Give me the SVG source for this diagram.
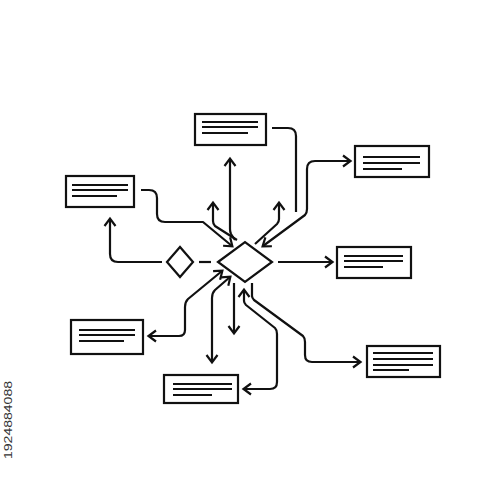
<svg xmlns="http://www.w3.org/2000/svg" width="500" height="500" viewBox="0 0 500 500">
<style>
.box{fill:#fff;stroke:#111;stroke-width:2.2}
.ln{stroke:#111;stroke-width:2;fill:none}
.c{stroke:#111;stroke-width:2.2;fill:none;stroke-linejoin:round}
.a{marker-end:url(#ah)}
.b{marker-start:url(#ah);marker-end:url(#ah)}
.dm{fill:#fff;stroke:#111;stroke-width:2.2;stroke-linejoin:miter}
</style>
<defs>
<marker id="ah" markerUnits="userSpaceOnUse" markerWidth="12" markerHeight="14" refX="8" refY="6" orient="auto-start-reverse" viewBox="0 0 12 12">
<path d="M1,0.5 L8.5,6 L1,11.5" fill="none" stroke="#111" stroke-width="2.2"/>
</marker>
</defs>
<rect width="500" height="500" fill="#fff"/>
<g id="connectors">
<path class="c a" d="M162 262 H118 Q110 262 110 254 V219"/>
<path class="c" d="M199 262 H211"/>
<path class="c a" d="M141 190 H149 Q157 190 157 198 V214 Q157 222 165 222 H203 L232 246"/>
<path class="c a" d="M237 240 L215 226 Q213 224 213 221 V203"/>
<path class="c a" d="M235 240 L231 234 Q230 232 230 229 V159"/>
<path class="c" d="M272 128 H288 Q296 128 296 136 V212"/>
<path class="c b" d="M263 246 L305 215 Q307 213 307 209 V169 Q307 161 315 161 H350"/>
<path class="c a" d="M255 244 L277 224 Q279 222 279 219 V203"/>
<path class="c a" d="M278 262 H332"/>
<path class="c a" d="M234 283 V333"/>
<path class="c b" d="M222 271 L188 299 Q185 302 185 307 V330 Q185 336 179 336 H149"/>
<path class="c b" d="M230 277 L215 290 Q212 293 212 298 V362"/>
<path class="c b" d="M244 290 V301 Q244 303 246 305 L275 328 Q277 330 277 334 V382 Q277 389 270 389 H244"/>
<path class="c a" d="M252 283 V296 Q252 298 254 300 L303 336 Q305 338 305 342 V355 Q305 362 312 362 H360"/>
</g>
<g id="main-decision"><polygon class="dm" points="218,262 245,242 272,262 245,282"/></g>
<g id="small-decision"><polygon class="dm" points="167,262 180,247 193,262 180,277"/></g>
<g id="box-top">
<rect class="box" x="195" y="114" width="71" height="31"/>
<path class="ln" d="M202 122 H258 M202 127 H258 M202 133 H248"/>
</g>
<g id="box-upper-left">
<rect class="box" x="66" y="176" width="68" height="31"/>
<path class="ln" d="M72 185 H128 M72 190 H128 M72 196 H117"/>
</g>
<g id="box-upper-right">
<rect class="box" x="355" y="146" width="74" height="31"/>
<path class="ln" d="M363 157 H420 M363 163 H420 M363 169 H402"/>
</g>
<g id="box-right">
<rect class="box" x="337" y="247" width="74" height="31"/>
<path class="ln" d="M344 256 H403 M344 261 H403 M344 267 H383"/>
</g>
<g id="box-lower-right">
<rect class="box" x="367" y="346" width="73" height="31"/>
<path class="ln" d="M373 353 H433 M373 359 H433 M373 365 H433 M373 370 H409"/>
</g>
<g id="box-lower-left">
<rect class="box" x="71" y="320" width="72" height="34"/>
<path class="ln" d="M79 330 H135 M79 335 H135 M79 341 H124"/>
</g>
<g id="box-bottom">
<rect class="box" x="164" y="375" width="74" height="28"/>
<path class="ln" d="M173 384 H232 M173 389 H232 M173 395 H212"/>
</g>
<text transform="translate(12,420) rotate(-90)" text-anchor="middle" font-family="Liberation Sans, sans-serif" font-size="10" textLength="78" lengthAdjust="spacingAndGlyphs" fill="#333">1924884088</text>
</svg>
